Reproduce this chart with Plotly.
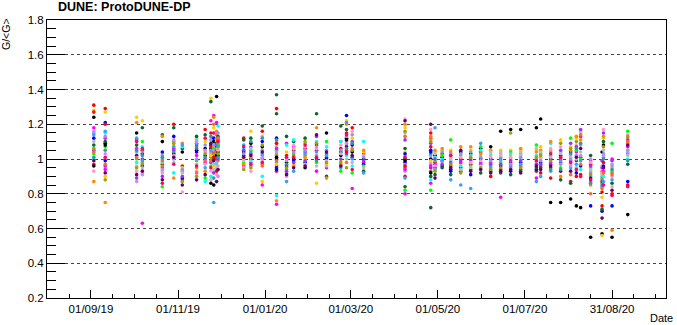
import plotly.graph_objects as go
import pandas as pd

# ---- data ----
dates = [
    "2019-09-03", "2019-09-11", "2019-10-03", "2019-10-07", "2019-10-21", "2019-10-29",
    "2019-11-04", "2019-11-14", "2019-11-20", "2019-11-24", "2019-11-26", "2019-11-28",
    "2019-11-29", "2019-12-17", "2019-12-22", "2019-12-30", "2020-01-09", "2020-01-16",
    "2020-01-21", "2020-01-29", "2020-02-06", "2020-02-13", "2020-02-23", "2020-02-27",
    "2020-03-02", "2020-03-10", "2020-04-08", "2020-04-26", "2020-04-29", "2020-05-04",
    "2020-05-10", "2020-05-17", "2020-05-24", "2020-05-31", "2020-06-07", "2020-06-14",
    "2020-06-21", "2020-06-28", "2020-07-09", "2020-07-12", "2020-07-19", "2020-07-26",
    "2020-08-02", "2020-08-06", "2020-08-09", "2020-08-16", "2020-08-24", "2020-08-25",
    "2020-08-31", "2020-09-11",
]

gains = [
    [1.24, 1.31, 1.28, 1.18, 1.12, 1.08, 1.03, 1.00, 0.87, 0.93, 1.05, 1.15, 1.14, 1.10, 1.06, 0.99, 0.97, 1.01, 1.16, 1.04, 0.96, 1.27],
    [1.09, 1.29, 1.27, 1.12, 1.21, 1.10, 1.07, 1.15, 0.75, 0.95, 0.96, 1.13, 1.16, 1.00, 0.88, 0.92, 1.01, 1.05, 1.03, 0.97, 1.08, 1.20, 0.90, 0.94, 0.99],
    [1.15, 1.11, 1.24, 1.06, 1.02, 1.08, 1.00, 0.98, 1.21, 0.93, 0.89, 1.04, 1.12, 0.96, 0.95, 0.91, 1.10, 1.05, 0.87, 1.01],
    [0.96, 1.05, 1.22, 0.63, 1.03, 1.18, 1.10, 1.07, 0.98, 0.92, 1.00, 1.04, 0.99, 0.95, 0.97, 0.93, 1.06, 1.02, 0.91],
    [1.10, 0.97, 1.03, 0.95, 1.04, 1.14, 0.84, 0.98, 1.13, 0.92, 0.90, 1.02, 1.00, 0.93, 0.96, 0.88, 0.86, 1.01, 0.94, 0.99],
    [1.03, 1.20, 1.08, 1.06, 1.13, 1.18, 1.10, 0.92, 0.89, 1.02, 1.05, 1.00, 1.07, 0.98, 1.09, 1.01, 0.97, 1.04, 1.11],
    [1.04, 0.96, 0.95, 0.88, 0.89, 1.06, 0.93, 1.07, 1.09, 0.81, 0.90, 0.94, 1.08, 0.92, 0.87, 0.85],
    [1.05, 1.08, 1.12, 1.02, 1.04, 1.13, 0.99, 1.11, 0.95, 0.93, 1.06, 1.00, 1.09, 0.97, 0.90, 0.88, 0.96, 1.07, 1.10, 0.92],
    [1.06, 1.17, 1.10, 0.98, 1.02, 1.14, 0.89, 0.87, 0.93, 1.04, 1.00, 1.08, 0.95, 0.97, 1.03, 0.91, 1.12, 1.01, 1.05, 0.99],
    [1.08, 1.15, 1.35, 1.22, 1.06, 1.33, 0.96, 0.90, 1.04, 0.93, 0.98, 1.11, 1.05, 0.88, 1.01, 1.09, 0.95, 1.13, 1.03, 0.99, 0.86, 1.07, 1.02],
    [1.10, 1.04, 1.18, 1.25, 1.12, 1.00, 1.06, 0.97, 1.24, 1.02, 0.92, 1.08, 0.75, 0.94, 1.03, 0.99, 1.15, 0.89, 1.05, 1.20, 0.85, 1.01, 0.96],
    [1.36, 1.05, 1.10, 1.21, 1.07, 1.09, 1.03, 0.98, 1.16, 0.91, 1.01, 1.12, 1.04, 0.95, 1.06, 0.87, 1.00, 1.08, 0.97, 1.14, 1.02, 0.93],
    [1.04, 1.11, 1.06, 1.08, 1.02, 1.13, 1.09, 1.19, 0.99, 1.05, 1.00, 1.15, 1.07, 0.96, 1.03, 0.94, 1.10, 1.01, 0.90, 1.12],
    [1.04, 1.12, 1.00, 0.96, 1.02, 1.11, 0.98, 1.06, 0.97, 0.95, 1.05, 1.03, 1.08, 0.99, 0.94, 1.01, 1.07],
    [1.09, 1.03, 1.16, 0.98, 1.00, 1.12, 1.05, 0.99, 1.01, 0.93, 1.07, 0.96, 1.04, 1.06, 0.95, 1.02, 0.97, 1.10],
    [1.07, 1.16, 0.87, 0.85, 1.10, 1.19, 1.03, 0.90, 0.97, 1.13, 1.00, 1.05, 1.02, 0.99, 1.08, 1.04, 0.98, 1.12, 1.01, 0.96],
    [1.00, 1.29, 1.10, 0.74, 1.12, 1.37, 1.05, 0.79, 0.76, 1.08, 0.96, 1.03, 0.98, 1.07, 1.02, 0.95, 0.93, 1.11, 1.04, 0.99, 1.01, 1.09, 0.97, 1.06, 0.94, 1.26],
    [0.98, 1.02, 1.04, 1.09, 0.96, 1.13, 0.92, 1.08, 0.94, 0.90, 0.93, 0.99, 0.87, 1.00, 0.95, 0.91, 1.01, 0.97],
    [1.00, 1.05, 0.97, 1.07, 0.99, 1.10, 1.03, 1.11, 0.96, 1.08, 0.98, 1.04, 0.93, 1.06, 1.02, 0.95, 1.01],
    [0.95, 1.06, 1.00, 1.04, 0.98, 1.12, 1.02, 1.09, 1.01, 1.07, 0.99, 1.05, 1.03, 0.97, 1.10, 0.96, 1.08],
    [1.08, 1.05, 0.86, 0.93, 1.00, 1.26, 0.98, 1.10, 1.18, 1.06, 1.13, 1.02, 1.04, 0.96, 1.09, 1.14, 1.01, 0.99, 1.07],
    [1.15, 1.01, 0.97, 0.95, 1.00, 0.90, 1.10, 1.07, 0.89, 0.99, 1.03, 1.05, 1.02, 0.96, 0.98, 1.04],
    [1.02, 1.06, 0.99, 1.10, 1.04, 1.19, 0.93, 1.10, 0.97, 1.08, 1.00, 1.05, 0.95, 1.03, 0.98, 0.96],
    [1.12, 1.15, 1.22, 1.05, 1.25, 1.17, 1.08, 1.02, 1.20, 1.10, 1.03, 1.13, 1.21, 1.00, 0.95, 1.07, 1.14, 1.06, 1.09, 0.98, 1.11, 1.04],
    [1.04, 1.18, 1.12, 0.83, 1.08, 1.01, 0.92, 0.96, 1.06, 1.16, 1.10, 1.14, 1.00, 0.98, 1.05, 1.02, 0.94, 1.09],
    [1.00, 1.03, 1.04, 0.98, 0.97, 0.93, 0.96, 1.10, 1.05, 1.02, 0.99, 1.01, 0.92, 0.95],
    [1.00, 0.90, 1.18, 0.80, 0.98, 1.06, 0.82, 1.02, 1.20, 1.23, 1.11, 0.97, 0.89, 1.15, 1.16, 1.22, 1.01, 0.95, 0.93, 1.13, 0.99, 0.96, 1.04, 0.94, 1.03, 0.84],
    [1.00, 1.07, 1.11, 0.86, 1.05, 0.72, 0.82, 0.88, 1.13, 1.17, 1.09, 1.02, 1.03, 0.98, 1.10, 1.20, 0.95, 0.93, 0.97, 1.12, 0.92, 1.15, 0.99, 0.96, 1.04, 0.90],
    [1.02, 0.98, 1.04, 0.97, 0.95, 0.91, 0.99, 1.01, 1.05, 0.96, 1.00, 0.94, 1.18, 1.03, 0.93, 0.89],
    [1.01, 1.03, 1.05, 0.99, 0.96, 0.95, 1.02, 1.00, 1.06, 0.98, 0.97, 1.04, 0.99],
    [0.94, 0.96, 1.05, 1.02, 0.93, 0.91, 1.11, 0.99, 1.04, 1.00, 0.98, 1.03, 0.88, 1.01, 0.97, 0.95, 1.02],
    [1.04, 1.00, 0.97, 0.98, 0.95, 0.93, 1.02, 0.96, 1.07, 1.01, 0.99, 1.03, 0.85, 0.94, 0.92, 1.05],
    [1.03, 0.97, 1.05, 0.99, 0.91, 0.94, 0.96, 1.02, 1.07, 0.98, 1.00, 1.04, 0.83, 0.95, 1.01, 0.93],
    [1.06, 1.04, 1.02, 0.98, 1.00, 0.92, 1.07, 1.05, 1.03, 0.99, 0.97, 1.01, 1.09, 0.96, 0.95, 0.94],
    [1.07, 0.90, 1.03, 0.98, 1.00, 0.93, 0.96, 1.02, 1.05, 1.01, 0.97, 0.99, 0.95, 1.04, 0.94, 0.92],
    [1.16, 0.94, 1.05, 0.78, 0.96, 0.92, 0.98, 1.03, 1.01, 1.02, 0.97, 0.99, 1.00, 1.04, 0.95, 0.93],
    [1.17, 0.98, 1.05, 0.96, 0.93, 0.91, 1.04, 1.03, 1.00, 1.01, 0.99, 0.97, 0.95, 1.02, 1.15, 0.94],
    [1.17, 0.94, 1.05, 0.96, 0.98, 0.93, 1.03, 1.00, 1.06, 1.02, 0.99, 1.01, 0.97, 1.04, 0.95, 0.92],
    [1.18, 0.93, 1.05, 0.89, 0.94, 0.95, 1.08, 1.02, 1.04, 0.98, 0.97, 1.00, 0.87, 1.06, 1.01, 0.96, 0.99],
    [1.23, 0.92, 1.07, 0.96, 0.98, 0.95, 1.03, 1.01, 1.05, 1.00, 0.97, 0.99, 0.90, 1.04, 1.02, 0.94],
    [0.75, 0.89, 1.05, 0.97, 1.00, 0.95, 1.02, 1.09, 1.10, 1.06, 0.98, 1.04, 0.93, 1.01, 0.99, 0.96, 1.03, 0.94],
    [0.75, 1.00, 1.11, 0.98, 1.02, 0.88, 0.95, 1.04, 0.90, 1.07, 1.05, 0.97, 0.99, 1.03, 1.09, 0.93, 1.01, 0.94],
    [0.77, 0.87, 1.07, 0.99, 1.04, 0.86, 1.12, 1.02, 1.05, 1.01, 1.09, 1.00, 0.95, 0.97, 1.06, 0.93, 0.98, 1.03, 0.96, 0.91],
    [0.73, 0.90, 1.12, 1.04, 0.92, 0.99, 1.05, 0.95, 1.13, 1.08, 1.07, 1.02, 0.97, 1.00, 1.10, 1.01, 0.94, 1.06],
    [0.72, 0.91, 1.15, 1.13, 0.96, 1.01, 1.00, 0.94, 1.11, 1.16, 1.17, 1.08, 0.99, 1.04, 1.14, 1.06, 0.90, 1.09, 1.02, 0.97],
    [0.55, 0.97, 0.93, 0.99, 0.73, 1.02, 0.95, 0.90, 0.85, 0.98, 0.96, 0.92, 0.87, 0.94, 0.91, 0.89, 0.88, 0.86, 1.00, 0.80],
    [1.04, 0.73, 0.78, 0.95, 0.70, 0.71, 0.86, 0.90, 0.93, 0.91, 0.99, 0.88, 0.84, 0.92, 0.89, 0.66, 0.87, 0.85, 0.96, 0.83, 0.57, 0.81, 0.56],
    [1.08, 0.98, 1.12, 0.93, 0.96, 1.10, 1.01, 0.90, 1.13, 1.17, 1.15, 1.03, 0.87, 1.05, 1.07, 0.95, 0.85, 1.00, 1.02, 0.92],
    [0.55, 0.80, 0.95, 1.00, 0.73, 0.86, 1.09, 0.93, 0.59, 0.90, 0.99, 0.96, 0.88, 0.84, 0.92, 0.82, 0.79, 0.94, 0.97, 0.91],
    [0.68, 0.85, 1.12, 1.07, 0.87, 0.97, 1.16, 1.00, 1.09, 1.14, 1.11, 1.05, 1.03, 1.02, 1.13, 1.08, 0.84, 0.99, 1.04, 1.10],
]

channel_colors = [
    "#000000", "#ff0000", "#ffcc00", "#ff00ff", "#0000ff", "#0b6630", "#00ff00",
    "#00ffff", "#ff8800", "#ff99cc", "#9933ff", "#8c96f0", "#33a0ff", "#bbbbbb",
    "#a0a000", "#660066", "#ff0066", "#339999", "#cc88ff", "#ff6633",
]

xtick_labels = ["01/09/19", "01/11/19", "01/01/20", "01/03/20", "01/05/20", "01/07/20", "31/08/20"]
ytick_values = [0.2, 0.4, 0.6, 0.8, 1.0, 1.2, 1.4, 1.6, 1.8]

# ---- build points ----
xs, ys, cs = [], [], []
for d, col in zip(dates, gains):
    for i, v in enumerate(col):
        xs.append(d)
        ys.append(v)
        cs.append(channel_colors[i % len(channel_colors)])

major = pd.to_datetime(xtick_labels, format="%d/%m/%y")
major_vals = [t.strftime("%Y-%m-%d") for t in major]
mean_step = (major[-1] - major[0]) / (len(major) - 1)
minor_vals = []
for k in range(1, 3):
    minor_vals.append(major[0] - mean_step * k / 4)
for a, b in zip(major[:-1], major[1:]):
    for q in range(1, 4):
        minor_vals.append(a + (b - a) * q / 4)
for k in range(1, 3):
    minor_vals.append(major[-1] + mean_step * k / 4)
minor_vals = [t.strftime("%Y-%m-%d %H:%M") for t in minor_vals]

font = "Liberation Sans, Arial, Helvetica, sans-serif"

fig = go.Figure()
fig.add_trace(go.Scatter(
    x=xs, y=ys, mode="markers",
    marker=dict(size=3.6, color=cs, line=dict(width=0)),
    showlegend=False, hoverinfo="x+y",
))

fig.update_layout(
    width=677, height=325, autosize=False,
    margin=dict(l=47, r=10, t=20, b=25),
    paper_bgcolor="white", plot_bgcolor="white",
    font=dict(family=font, size=11, color="black"),
    showlegend=False,
)

fig.update_xaxes(
    type="date",
    range=["2019-08-01 05:00", "2020-10-07 19:00"],
    tickmode="array", tickvals=major_vals, ticktext=xtick_labels,
    ticks="inside", ticklen=8, tickwidth=1, tickcolor="black",
    minor=dict(tickmode="array", tickvals=minor_vals, ticks="inside", ticklen=4,
               tickwidth=1, tickcolor="black", showgrid=False),
    showgrid=False, zeroline=False,
    showline=True, linecolor="black", linewidth=1, mirror=True,
    tickfont=dict(family=font, size=11.5, color="black"),
)

fig.update_yaxes(
    range=[0.2, 1.8],
    tickmode="array", tickvals=ytick_values,
    ticktext=[("%g" % v) for v in ytick_values],
    ticks="inside", ticklen=18, tickwidth=1, tickcolor="black",
    minor=dict(dtick=0.05, tick0=0.2, ticks="inside", ticklen=9,
               tickwidth=1, tickcolor="black", showgrid=False),
    showgrid=True, gridcolor="#444444", gridwidth=1, griddash="dot",
    zeroline=False,
    showline=True, linecolor="black", linewidth=1, mirror=True,
    tickfont=dict(family=font, size=11.5, color="black"),
)

fig.add_annotation(
    text="<b>DUNE: ProtoDUNE-DP</b>", xref="paper", yref="paper",
    x=9 / 620, y=1 + 13 / 280, xanchor="left", yanchor="middle",
    showarrow=False, font=dict(family=font, size=12.5, color="black"),
)
fig.add_annotation(
    text="G/&lt;G&gt;", xref="paper", yref="paper",
    x=-41 / 620, y=1 - 14 / 280, xanchor="center", yanchor="middle",
    textangle=-90, showarrow=False, font=dict(family=font, size=10.5, color="black"),
)
fig.add_annotation(
    text="Date", xref="paper", yref="paper",
    x=629 / 620, y=-20 / 280, xanchor="right", yanchor="middle",
    showarrow=False, font=dict(family=font, size=11, color="black"),
)

fig.write_html("out.html", config={"displayModeBar": False})

# remove the browser's default page margin so the figure sits at the window's corner
with open("out.html", "r", encoding="utf-8") as fh:
    page = fh.read()
page = page.replace("<body>", '<body style="margin:0;overflow:hidden;">', 1)
with open("out.html", "w", encoding="utf-8") as fh:
    fh.write(page)
